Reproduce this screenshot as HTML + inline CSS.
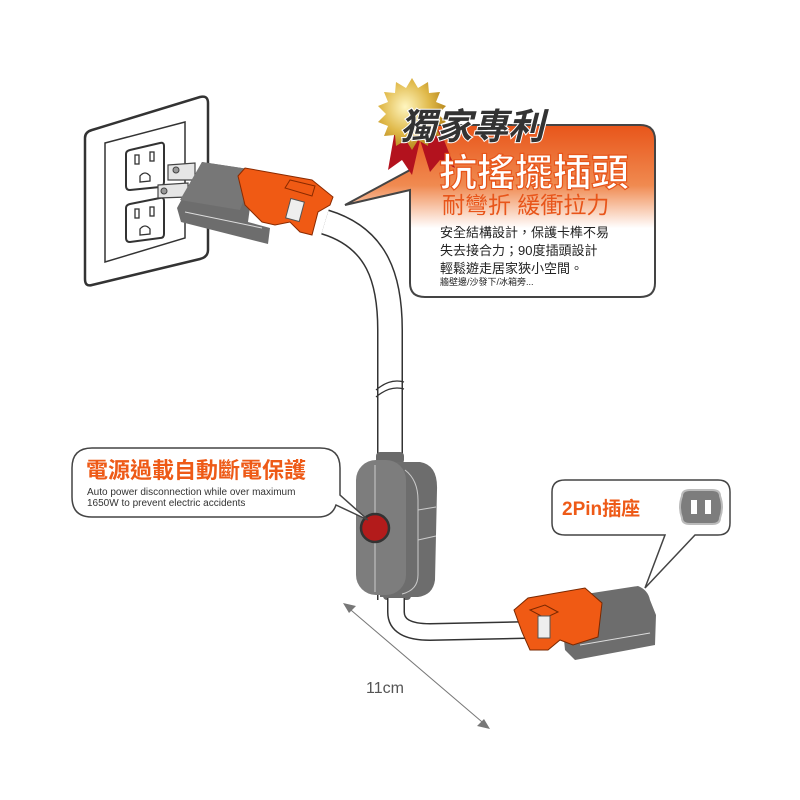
<!DOCTYPE html>
<html><head><meta charset="utf-8"><style>
html,body{margin:0;padding:0;background:#fff;}
svg{display:block;}
text{font-family:"Liberation Sans","Noto Sans CJK TC",sans-serif;}
</style></head><body>
<svg width="800" height="800" viewBox="0 0 800 800" xmlns="http://www.w3.org/2000/svg">
<defs>
<linearGradient id="og" x1="0" y1="0" x2="0" y2="1">
<stop offset="0" stop-color="#e8551a"/><stop offset="0.35" stop-color="#f08a50"/><stop offset="0.6" stop-color="#fff"/><stop offset="1" stop-color="#fff"/>
</linearGradient>
<radialGradient id="gold" cx="0.4" cy="0.4" r="0.6"><stop offset="0" stop-color="#fff6c0"/><stop offset="0.6" stop-color="#e0b94a"/><stop offset="1" stop-color="#b8891e"/></radialGradient>
</defs>
<!-- wall plate -->
<path d="M92,130 L200,97 Q208,95 208,103 L208,250 Q208,257 200,259 L92,285 Q85,287 85,279 L85,138 Q85,132 92,130 Z" fill="#fff" stroke="#333" stroke-width="2.5"/>
<path d="M105,143 L185,122 L185,238 L105,262 Z" fill="#fff" stroke="#333" stroke-width="1.5"/>
<g fill="#fff" stroke="#333" stroke-width="2">
<path d="M130,150 L160,143 Q164,142 164,146 L164,182 Q164,186 160,187 L130,190 Q126,190 126,186 L126,154 Q126,151 130,150Z"/>
<path d="M130,204 L160,198 Q164,197 164,201 L164,234 Q164,238 160,238 L130,242 Q126,242 126,238 L126,208 Q126,205 130,204Z"/>
</g>
<g fill="none" stroke="#333" stroke-width="1.3">
<rect x="135" y="155" width="4" height="9"/><rect x="150" y="152" width="4" height="9"/>
<path d="M140,182 L140,176 Q145,170 150,176 L150,181 Z"/>
<rect x="135" y="209" width="4" height="9"/><rect x="150" y="207" width="4" height="9"/>
<path d="M140,235 L140,229 Q145,223 150,229 L150,234 Z"/>
</g>
<!-- prongs -->
<path d="M168,165 L195,163 L195,180 L168,180 Z" fill="#e5e5e5" stroke="#444" stroke-width="1.2"/>
<path d="M158,185 L188,183 L188,197 L158,198 Z" fill="#e5e5e5" stroke="#444" stroke-width="1.2"/>
<circle cx="176" cy="170" r="3" fill="#999" stroke="#444"/><circle cx="164" cy="191" r="3" fill="#999" stroke="#444"/>
<!-- cable top -->
<path d="M325,222 C378,238 390,280 390,330 L390,600" fill="none" stroke="#333" stroke-width="26"/>
<path d="M325,222 C378,238 390,280 390,330 L390,600" fill="none" stroke="#fff" stroke-width="23"/>
<path d="M376,390 Q390,378 404,382 M376,397 Q390,385 404,389" stroke="#333" stroke-width="1.3" fill="none"/>
<!-- plug 1 gray -->
<path d="M177,208 L202,162 L255,170 L248,222 L270,228 L268,244 L181,222 Z" fill="#6d6d6d"/>
<path d="M202,162 L255,170 L240,210 L180,200 Z" fill="#777"/>
<path d="M185,212 L262,228" stroke="#ddd" stroke-width="1"/>
<!-- orange cap 1 -->
<path d="M238,176 L245,168 L312,180 L333,197 L330,205 L318,212 L312,235 L300,232 L290,222 L275,225 L262,222 L245,205 Z" fill="#f05a14" stroke="#8a2a00" stroke-width="1"/>
<path d="M285,188 L290,180 L315,186 L312,196 Z" fill="#f05a14" stroke="#8a2a00"/>
<rect x="288" y="200" width="14" height="20" fill="#eee" stroke="#555" transform="rotate(15 295 210)"/>
<!-- callout top -->
<path d="M655,140 Q655,125 640,125 L425,125 Q410,125 410,140 L410,170 L345,205 L410,190 L410,283 Q410,297 425,297 L640,297 Q655,297 655,283 Z" fill="url(#og)" stroke="#444" stroke-width="2"/>
<!-- medal -->
<path d="M395,130 L388,170 L402,160 L412,175 L420,140 L430,172 L440,160 L455,168 L440,130 Z" fill="#b3121e"/>
<polygon points="412,78 418,88 428,82 429,93 440,92 436,102 446,106 438,114 446,122 436,126 440,136 429,135 428,146 418,140 412,150 406,140 396,146 395,135 384,136 388,126 378,122 386,114 378,106 388,102 384,92 395,93 396,82 406,88" fill="url(#gold)"/>
<text x="400" y="139" font-size="36" font-weight="bold" font-style="italic" fill="#333" stroke="#fff" stroke-width="2" paint-order="stroke">獨家專利</text>
<text x="439" y="186" font-size="38" font-weight="bold" fill="#fff" stroke="#e8551a" stroke-width="1.2">抗搖擺插頭</text>
<text x="442" y="213" font-size="23" fill="#e8551a">耐彎折 緩衝拉力</text>
<g font-size="13" fill="#222"><text x="440" y="237">安全結構設計，保護卡榫不易</text>
<text x="440" y="255">失去接合力；90度插頭設計</text>
<text x="440" y="273">輕鬆遊走居家狹小空間。</text></g>
<text x="440" y="285" font-size="9" fill="#222">牆壁邊/沙發下/冰箱旁...</text>
<!-- switch box -->
<rect x="376" y="452" width="28" height="12" rx="4" fill="#6a6a6a"/>
<rect x="383" y="588" width="28" height="12" rx="4" fill="#6a6a6a"/>
<path d="M375,462 L420,462 Q438,465 437,490 L435,580 Q433,595 418,597 L380,597 Z" fill="#6d6d6d"/>
<rect x="356" y="460" width="50" height="135" rx="20" fill="#7d7d7d"/>
<line x1="375" y1="465" x2="375" y2="592" stroke="#ccc" stroke-width="1"/>
<path d="M405,470 Q418,480 418,500 L418,575 Q418,590 402,594" fill="none" stroke="#ccc"/>
<path d="M418,510 L436,507 M418,540 L436,536" stroke="#ccc"/>
<circle cx="375" cy="528" r="14" fill="#b31b1b" stroke="#333" stroke-width="2.5"/>
<!-- callout left -->
<path d="M92,448 L320,448 Q340,448 340,468 L340,495 L368,520 L336,505 Q332,517 318,517 L92,517 Q72,517 72,497 L72,468 Q72,448 92,448 Z" fill="#fff" stroke="#444" stroke-width="1.5"/>
<text x="86" y="478" font-size="22" font-weight="bold" fill="#ee5a17">電源過載自動斷電保護</text>
<g font-size="10" fill="#333"><text x="87" y="495">Auto power disconnection while over maximum</text>
<text x="87" y="506">1650W to prevent electric accidents</text></g>
<!-- bottom cable -->
<path d="M396,598 L396,612 Q396,632 430,632 L525,630" fill="none" stroke="#333" stroke-width="18"/>
<path d="M396,598 L396,612 Q396,632 430,632 L525,630" fill="none" stroke="#fff" stroke-width="15"/>
<!-- plug 2 -->
<path d="M560,598 L638,586 Q648,590 650,600 L656,615 L655,645 L575,660 L565,650 Z" fill="#6d6d6d"/>
<line x1="580" y1="645" x2="650" y2="633" stroke="#ddd"/>
<path d="M514,610 L528,598 L585,588 L602,603 L598,637 L573,645 L560,640 L548,650 L530,650 L522,632 Z" fill="#f05a14" stroke="#7a2800" stroke-width="1"/>
<path d="M530,610 L545,605 L558,612 L545,618 Z" fill="#f05a14" stroke="#7a2800"/>
<rect x="538" y="616" width="12" height="22" fill="#eee" stroke="#555"/>
<!-- callout right -->
<path d="M565,480 L718,480 Q730,480 730,492 L730,523 Q730,535 718,535 L695,535 L645,588 L665,535 L565,535 Q552,535 552,523 L552,492 Q552,480 565,480 Z" fill="#fff" stroke="#444" stroke-width="1.5"/>
<text x="562" y="515" font-size="19" font-weight="bold" fill="#ee5a17">2Pin插座</text>
<path d="M682,496 Q682,490 690,490 L712,490 Q720,490 720,496 Q724,507 720,518 Q720,524 712,524 L690,524 Q682,524 682,518 Q678,507 682,496 Z" fill="#7d7d7d" stroke="#bbb" stroke-width="2"/>
<rect x="691" y="500" width="6" height="14" fill="#fff"/><rect x="705" y="500" width="6" height="14" fill="#fff"/>
<!-- dimension -->
<line x1="345" y1="605" x2="488" y2="727" stroke="#777" stroke-width="1"/>
<path d="M343,603 L356,606 L349,613 Z M490,729 L477,726 L484,719 Z" fill="#777"/>
<text x="366" y="693" font-size="16" fill="#555">11cm</text>
</svg>
</body></html>
